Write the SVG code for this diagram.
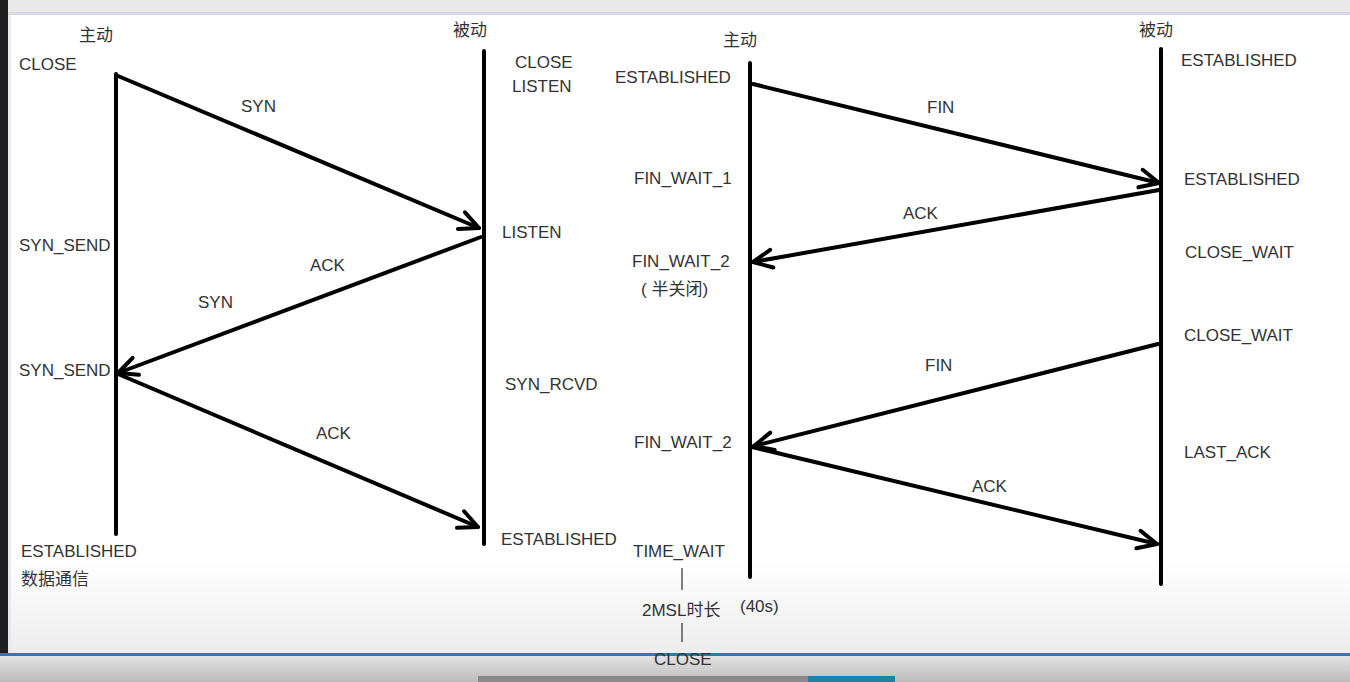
<svg xmlns="http://www.w3.org/2000/svg" width="1350" height="682" viewBox="0 0 1350 682">
<defs>
<marker id="arr" markerUnits="userSpaceOnUse" markerWidth="40" markerHeight="40" refX="0" refY="0" viewBox="-30 -20 40 40" orient="auto" overflow="visible">
<path d="M-19,-9 L0,0 L-19,9" fill="none" stroke="#000" stroke-width="4" stroke-linecap="round" stroke-linejoin="round"/>
</marker>
<linearGradient id="bot" x1="0" y1="0" x2="0" y2="1">
<stop offset="0" stop-color="#e2e2e2"/>
<stop offset="1" stop-color="#bdbdbd"/>
</linearGradient>
<linearGradient id="fade" x1="0" y1="0" x2="0" y2="1">
<stop offset="0" stop-color="#ffffff"/>
<stop offset="1" stop-color="#ececec"/>
</linearGradient>
</defs>
<style>
text{font-family:"Liberation Sans","Noto Sans CJK SC",sans-serif;font-size:17px;fill:#333;}
.life{stroke:#000;stroke-width:4;stroke-linecap:round;fill:none;}
.msg{stroke:#000;stroke-width:4;stroke-linecap:round;fill:none;marker-end:url(#arr);}
.tick{stroke:#555;stroke-width:1.5;}
</style>
<rect x="0" y="0" width="1350" height="682" fill="#ffffff"/>
<rect x="0" y="560" width="1350" height="95" fill="url(#fade)"/>
<rect x="0" y="0" width="1350" height="12" fill="#e9e9e9"/>
<rect x="0" y="12" width="1350" height="3" fill="#d6dbe3"/>
<rect x="0" y="0" width="8" height="682" fill="#1e1e1e"/>
<rect x="8" y="15" width="3" height="640" fill="#e6eaf0"/>
<rect x="0" y="656" width="1350" height="26" fill="url(#bot)"/>
<rect x="0" y="653" width="1350" height="3" fill="#1f82a5"/>
<rect x="478" y="676" width="330" height="6" fill="#8a8a8a"/>
<rect x="808" y="676" width="87" height="6" fill="#1f82a5"/>

<g id="connectors">
<line class="life" x1="116" y1="74" x2="116" y2="534"/>
<line class="life" x1="484" y1="51" x2="484" y2="544"/>
<line class="life" x1="750" y1="63" x2="750" y2="577"/>
<line class="life" x1="1161" y1="49" x2="1161" y2="584"/>
<line class="msg" x1="118" y1="76" x2="479" y2="228"/>
<line class="msg" x1="481" y1="237" x2="118" y2="373"/>
<line class="msg" x1="118" y1="374" x2="478" y2="527"/>
<line class="msg" x1="753" y1="84" x2="1159" y2="183"/>
<line class="msg" x1="1159" y1="190" x2="753" y2="262"/>
<line class="msg" x1="1158" y1="344" x2="754" y2="446"/>
<line class="msg" x1="752" y1="447" x2="1157" y2="544"/>
<line class="tick" x1="682" y1="568" x2="682" y2="590"/>
<line class="tick" x1="682" y1="623" x2="682" y2="642"/>
</g>

<g id="left-active">
<text x="79" y="41">主动</text>
<text x="19" y="70">CLOSE</text>
<text x="19" y="251">SYN_SEND</text>
<text x="19" y="376">SYN_SEND</text>
<text x="21" y="557">ESTABLISHED</text>
<text x="21" y="585" font-size="16">数据通信</text>
</g>
<g id="left-passive">
<text x="453" y="36">被动</text>
<text x="515" y="68">CLOSE</text>
<text x="512" y="92">LISTEN</text>
<text x="502" y="238">LISTEN</text>
<text x="505" y="390">SYN_RCVD</text>
<text x="501" y="545">ESTABLISHED</text>
</g>
<g id="left-labels">
<text x="241" y="112">SYN</text>
<text x="310" y="271">ACK</text>
<text x="198" y="308">SYN</text>
<text x="316" y="439">ACK</text>
</g>
<g id="right-active">
<text x="723" y="46">主动</text>
<text x="615" y="83">ESTABLISHED</text>
<text x="634" y="184">FIN_WAIT_1</text>
<text x="632" y="267">FIN_WAIT_2</text>
<text x="641" y="295" font-size="16">( 半关闭)</text>
<text x="634" y="448">FIN_WAIT_2</text>
<text x="633" y="557">TIME_WAIT</text>
<text x="642" y="616">2MSL时长</text>
<text x="740" y="612">(40s)</text>
<text x="654" y="665">CLOSE</text>
</g>
<g id="right-passive">
<text x="1139" y="36">被动</text>
<text x="1181" y="66">ESTABLISHED</text>
<text x="1184" y="185">ESTABLISHED</text>
<text x="1185" y="258">CLOSE_WAIT</text>
<text x="1184" y="341">CLOSE_WAIT</text>
<text x="1184" y="458">LAST_ACK</text>
</g>
<g id="right-labels">
<text x="927" y="113">FIN</text>
<text x="903" y="219">ACK</text>
<text x="925" y="371">FIN</text>
<text x="972" y="492">ACK</text>
</g>
</svg>
